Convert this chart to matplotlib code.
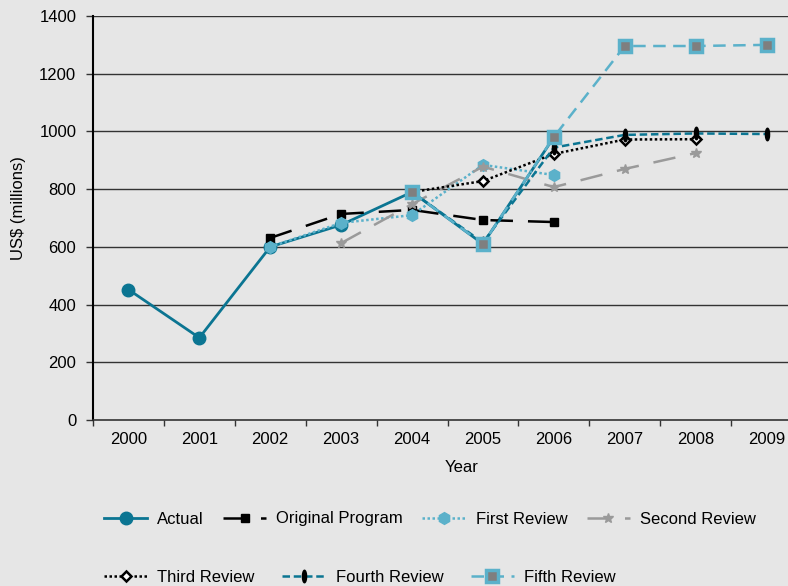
import numpy as np
import matplotlib
matplotlib.use("Agg")
import matplotlib.pyplot as plt
from matplotlib.path import Path

plt.rcParams['font.family'] = ['Liberation Sans', 'DejaVu Sans']

years = ['2000', '2001', '2002', '2003', '2004', '2005', '2006', '2007', '2008', '2009']
N = None
actual          = [452, 285, 600, 676, 790, 610, 980, N, N, N]
original_prog   = [N, N, 631, 714, 728, 693, 686, N, N, N]
first_review    = [N, N, 600, 683, 710, 884, 849, N, N, N]
second_review   = [N, N, N, 613, 748, 878, 807, 870, 925, N]
third_review    = [N, N, N, N, 790, 828, 922, 972, 973, N]
fourth_review   = [N, N, N, N, 790, 615, 944, 988, 993, 991]
fifth_review    = [N, N, N, N, 790, 610, 981, 1296, 1296, 1300]

yticks = [0, 200, 400, 600, 800, 1000, 1200, 1400]

def arr(v):
    return np.array([np.nan if x is None else x for x in v], dtype=float)

BG = '#e6e6e6'
DARK = '#0b7592'
LIGHT = '#5bb1ca'
GREY = '#9a9a9a'

fig = plt.figure(figsize=(7.88, 5.86), dpi=100, facecolor=BG)
ax = fig.add_axes([93/788, 1-420/586, 709/788, 404/586], facecolor=BG)

x = np.arange(len(years))

circ = Path.unit_circle()
ellipse = Path(circ.vertices * np.array([0.33, 1.0]), circ.codes)

h_act, = ax.plot(x, arr(actual), color=DARK, lw=2.0, marker='o', ms=9,
                 mfc=DARK, mec=DARK, label='Actual', zorder=3)
h_org, = ax.plot(x, arr(original_prog), color='black', lw=1.8, ls=(0, (9, 6)),
                 marker='s', ms=5.5, mfc='black', mec='black',
                 label='Original Program', zorder=3)
h_fst, = ax.plot(x, arr(first_review), color=LIGHT, lw=1.8, ls=(0, (1, 1)),
                 marker='h', ms=8.5, mfc=LIGHT, mec=LIGHT,
                 label='First Review', zorder=3)
h_snd, = ax.plot(x, arr(second_review), color=GREY, lw=1.8, ls=(0, (9, 6)),
                 marker='*', ms=7, mfc=GREY, mec=GREY,
                 label='Second Review', zorder=3)
h_thd, = ax.plot(x, arr(third_review), color='black', lw=1.8, ls=(0, (1, 1)),
                 marker='D', ms=5.5, mfc='white', mec='black', mew=1.8,
                 label='Third Review', zorder=3)
h_fth, = ax.plot(x, arr(fourth_review), color=DARK, lw=1.8, ls=(0, (3, 1.5)),
                 marker=ellipse, ms=9, mfc='black', mec='black',
                 label='Fourth Review', zorder=3)
h_fif, = ax.plot(x, arr(fifth_review), color=LIGHT, lw=1.8, ls=(0, (5, 3)),
                 marker='s', ms=8, mfc='#7f7f7f', mec=LIGHT, mew=2.5,
                 label='Fifth Review', zorder=3)

ax.set_xlim(-0.5, len(years) - 0.5)
ax.set_ylim(0, 1400)
ax.set_yticks(yticks)
ax.set_yticklabels([str(v) for v in yticks], fontsize=12)
ax.set_xticks(x)
ax.set_xticklabels(years, fontsize=12)
ax.set_xticks(np.arange(-0.5, len(years)), minor=True)
ax.tick_params(axis='x', which='major', length=0, pad=9)
ax.tick_params(axis='x', which='minor', length=4, width=1, color='#333333')
ax.tick_params(axis='y', length=5, width=1, pad=7, color='#333333')

for v in yticks[1:]:
    ax.axhline(v, color='#333333', lw=1, zorder=1)

for s in ['top', 'right']:
    ax.spines[s].set_visible(False)
ax.spines['left'].set_color('black')
ax.spines['left'].set_linewidth(1.5)
ax.spines['bottom'].set_color('#333333')
ax.spines['bottom'].set_linewidth(1.2)

fig.text(462/788, 1-468/586, 'Year', fontsize=12, ha='center', va='center')
fig.text(19/788, 1-208/586, 'US$ (millions)', fontsize=12, ha='center',
         va='center', rotation=90)

leg_kw = dict(frameon=False, fontsize=12, handlelength=2.6, handletextpad=0.6,
              borderpad=0, borderaxespad=0, loc='center left')
leg1 = fig.legend(handles=[h_act, h_org, h_fst, h_snd], ncol=4,
                  columnspacing=1.15,
                  bbox_to_anchor=(104/788, 1-519/586), **leg_kw)
leg2 = fig.legend(handles=[h_thd, h_fth, h_fif], ncol=3,
                  columnspacing=1.65,
                  bbox_to_anchor=(104/788, 1-577/586), **leg_kw)

fig.savefig('out.png', dpi=100, facecolor=BG)
